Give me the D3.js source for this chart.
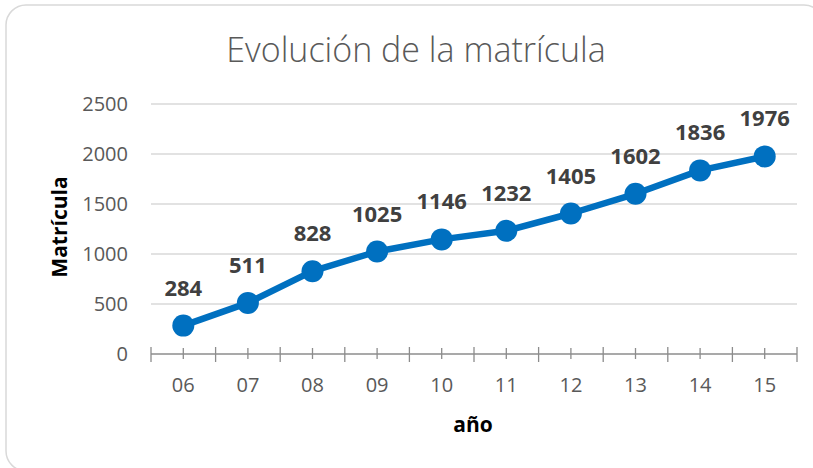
<!DOCTYPE html>
<html><head><meta charset="utf-8">
<script src="https://cdn.jsdelivr.net/npm/d3@7"></script>
<style>body{margin:0;background:#fff}svg{display:block}</style>
</head><body>
<script>
const categories = ["06","07","08","09","10","11","12","13","14","15"];
const values = [284,511,828,1025,1146,1232,1405,1602,1836,1976];
const yTicks = [0,500,1000,1500,2000,2500];
const title = "Evolución de la matrícula";
const xTitle = "año";
const yTitle = "Matrícula";

(function () {
const W = 813, H = 468;
const svg = d3.select("body").append("svg").attr("width", W).attr("height", H);
const font = "'Open Sans', sans-serif";

svg.append("rect").attr("x", 6).attr("y", 5).attr("width", 818).attr("height", 466)
  .attr("rx", 20).attr("fill", "#fff").attr("stroke", "#d9d9d9").attr("stroke-width", 1.5);

const pL = 151, pR = 797, pT = 104, pB = 354;
const x = d3.scaleBand().domain(categories).range([pL, pR]);
const y = d3.scaleLinear().domain([0, 2500]).range([pB, pT]);

// gridlines
svg.append("g").selectAll("line").data(yTicks.filter(d => d > 0)).join("line")
  .attr("x1", pL).attr("x2", pR).attr("y1", d => y(d)).attr("y2", d => y(d))
  .attr("stroke", "#d9d9d9").attr("stroke-width", 1.3);

// y labels
svg.append("g").selectAll("text").data(yTicks).join("text")
  .attr("x", 128).attr("y", d => y(d)).attr("dy", "0.36em").attr("text-anchor", "end")
  .attr("font-family", font).attr("font-size", 20).attr("fill", "#595959").text(d => d);

// x axis line
const ax = svg.append("g");
ax.append("line").attr("x1", pL).attr("x2", pR).attr("y1", pB).attr("y2", pB)
  .attr("stroke", "#8c8c8c").attr("stroke-width", 1.3);
const bounds = categories.map(c => x(c)).concat([pR]);
ax.selectAll(".maj").data(bounds).join("line").attr("class", "maj")
  .attr("x1", d => d).attr("x2", d => d).attr("y1", pB - 7).attr("y2", pB + 8)
  .attr("stroke", "#8c8c8c").attr("stroke-width", 1.3);
ax.selectAll(".min").data(categories).join("line").attr("class", "min")
  .attr("x1", d => x(d) + x.bandwidth() / 2).attr("x2", d => x(d) + x.bandwidth() / 2)
  .attr("y1", pB - 6).attr("y2", pB + 5)
  .attr("stroke", "#8c8c8c").attr("stroke-width", 1.3);
ax.selectAll("text").data(categories).join("text")
  .attr("x", d => x(d) + x.bandwidth() / 2).attr("y", 392).attr("text-anchor", "middle")
  .attr("font-family", font).attr("font-size", 20).attr("fill", "#595959").text(d => d);

// title
svg.append("text").attr("x", 416).attr("y", 62).attr("text-anchor", "middle")
  .attr("font-family", font).attr("font-weight", 300).attr("font-size", 34)
  .attr("fill", "#595959").text(title);

// axis titles
svg.append("text").attr("x", 473).attr("y", 432).attr("text-anchor", "middle")
  .attr("font-family", font).attr("font-weight", 700).attr("font-size", 21)
  .attr("fill", "#000").text(xTitle);
svg.append("text").attr("transform", "translate(67,227) rotate(-90)").attr("text-anchor", "middle")
  .attr("font-family", font).attr("font-weight", 700).attr("font-size", 21)
  .attr("fill", "#000").text(yTitle);

// line
const cx = (d, i) => x(categories[i]) + x.bandwidth() / 2;
const line = d3.line().x((d, i) => cx(d, i)).y(d => y(d));
svg.append("path").datum(values).attr("d", line).attr("fill", "none")
  .attr("stroke", "#0070c0").attr("stroke-width", 6.5).attr("stroke-linejoin", "round");
svg.append("g").selectAll("circle").data(values).join("circle")
  .attr("cx", cx).attr("cy", d => y(d)).attr("r", 11).attr("fill", "#0070c0");

// data labels
svg.append("g").selectAll("text").data(values).join("text")
  .attr("x", cx).attr("y", d => y(d) - 30).attr("text-anchor", "middle")
  .attr("font-family", font).attr("font-weight", 700).attr("font-size", 22)
  .attr("fill", "#404040").text(d => d);
})();
</script>
</body></html>
